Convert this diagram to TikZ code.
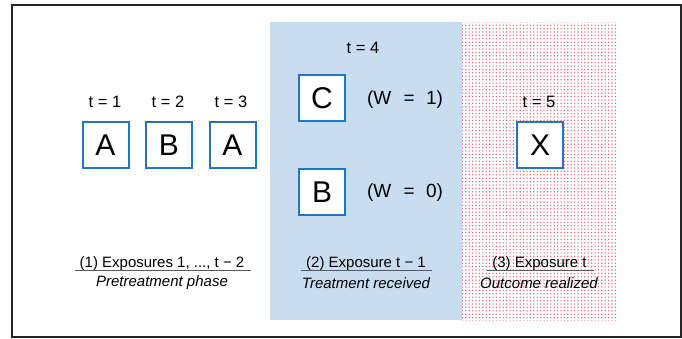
\documentclass[tikz,border=0pt]{standalone}
\usepackage{fontspec}
\setmainfont{Liberation Sans}
\usetikzlibrary{patterns.meta}
\definecolor{boxblue}{RGB}{34,116,196}
\definecolor{panelblue}{RGB}{200,221,240}
\definecolor{dotred}{RGB}{230,100,112}
\begin{document}
\begin{tikzpicture}[x=1pt,y=-1pt,
  letterbox/.style={draw=boxblue,line width=2pt,fill=white,minimum width=46pt,minimum height=46pt,inner sep=0pt,font=\fontsize{30}{33}\selectfont},
  tlabel/.style={font=\fontsize{16.5}{19}\selectfont,inner sep=0pt},
  wlabel/.style={font=\fontsize{19}{22}\selectfont,inner sep=0pt},
  phase/.style={font=\fontsize{15}{18}\selectfont,inner sep=0pt},
  phaseit/.style={font=\fontsize{15}{18}\selectfont\itshape,inner sep=0pt},
  uline/.style={draw=black!65,line width=0.9pt}]
\useasboundingbox (0,0) rectangle (682,338);
\fill[white] (0,0) rectangle (682,338);
% panels
\fill[panelblue] (270,22) rectangle (462,320);
\fill[pattern={Dots[distance=3.4pt,radius=0.75pt]},pattern color=dotred] (462,22) rectangle (618,320);
% frame
\draw[black!85,line width=1.3pt] (12,5) rectangle (681,337);
% boxes
\node[letterbox] (a1) at (105.5,145) {A};
\node[letterbox] (b2) at (169,145) {B};
\node[letterbox] (a3) at (232.5,145) {A};
\node[letterbox] (c4) at (322,98) {C};
\node[letterbox] (b4) at (322,192) {B};
\node[letterbox] (x5) at (540,145) {X};
% time labels
\node[tlabel] (t1) at (105,101.5) {t = 1};
\node[tlabel] (t2) at (168,101.5) {t = 2};
\node[tlabel] (t3) at (231,101.5) {t = 3};
\node[tlabel] (t4) at (363,48) {t = 4};
\node[tlabel] (t5) at (539,101.5) {t = 5};
% W labels
\node[wlabel] (w1) at (405,99.5) {(W\hspace{7pt} = \hspace{6pt}1)};
\node[wlabel] (w0) at (405,193) {(W\hspace{7pt} = \hspace{6pt}0)};
% phase labels
\node[phase,anchor=base] (p1) at (162,267) {(1) Exposures 1, ..., t − 2};
\node[phase,anchor=base] (p2) at (366,267) {(2) Exposure t − 1};
\node[phase,anchor=base] (p3) at (539.5,267) {(3) Exposure t};
\coordinate (u1a) at (75,270.5); \coordinate (u1b) at (251,270.5);
\coordinate (u2a) at (301,270.5); \coordinate (u2b) at (432,270.5);
\coordinate (u3a) at (487,270.5); \coordinate (u3b) at (594,270.5);
\draw[uline] (u1a) -- (u1b);
\draw[uline] (u2a) -- (u2b);
\draw[uline] (u3a) -- (u3b);
\node[phaseit] (i1) at (162,283) {Pretreatment phase};
\node[phaseit] (i2) at (366,283) {Treatment received};
\node[phaseit] (i3) at (539,283) {Outcome realized};
\end{tikzpicture}
\end{document}
